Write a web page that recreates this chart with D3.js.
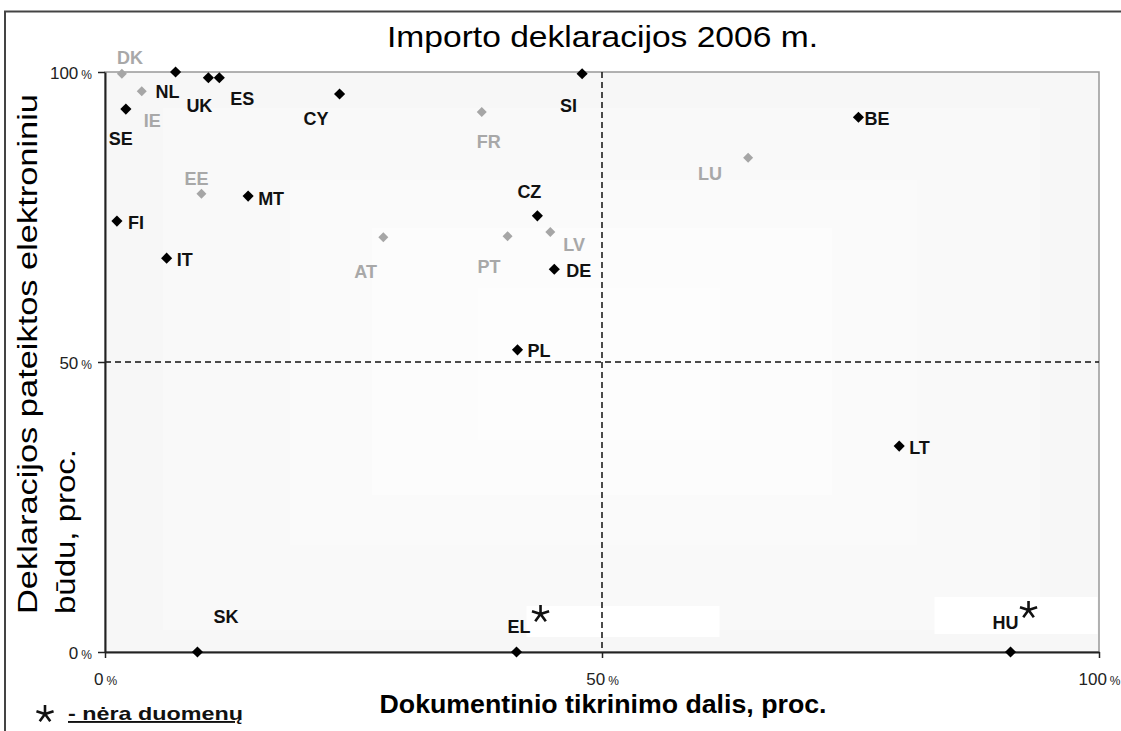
<!DOCTYPE html>
<html>
<head>
<meta charset="utf-8">
<script src="https://cdn.jsdelivr.net/npm/d3@7"></script>
<style>
body { margin: 0; background: #fff; }
svg { display: block; font-family: "Liberation Sans", Arial, sans-serif; }
</style>
</head>
<body>
<svg width="1121" height="731"></svg>
<script>
// country codes, x = dokumentinio tikrinimo dalis (%), y = deklaracijos elektroniniu budu (%)
var codes = ["DK","IE","NL","UK","ES","SE","CY","EE","MT","FI","IT","AT","SI","FR","LU","CZ","LV","PT","DE","PL","BE","LT","SK","EL","HU"];
var xVals = [1.7, 3.7, 7.1, 10.4, 11.5, 2.1, 23.6, 9.7, 14.4, 1.2, 6.2, 28.0, 48.0, 37.9, 64.7, 43.5, 44.8, 40.5, 45.2, 41.5, 75.8, 79.9, 9.3, 41.4, 91.1];
var yVals = [99.7, 96.7, 100, 99.0, 99.0, 93.6, 96.2, 79.0, 78.6, 74.3, 67.9, 71.5, 99.7, 93.1, 85.2, 75.2, 72.4, 71.7, 66.0, 52.1, 92.2, 35.5, 0, 0, 0];
var grayCodes = ["DK","IE","EE","AT","FR","LU","LV","PT"];
var noData = ["EL","HU"];
var tickVals = [0, 50, 100];

// label placement (dx, dy of text start/baseline from the point)
var labelOff = {
  DK:[-5,-10], IE:[2,36], NL:[-20,26], UK:[-22,34], ES:[11,27], SE:[-17,36],
  CY:[-36,31], EE:[-17,-9], MT:[10,9], FI:[11,8], IT:[10,8], AT:[-29,41],
  SI:[-22,38], FR:[-5,36], LU:[-50,22], CZ:[-20,-18], LV:[13,19], PT:[-30,37],
  DE:[12,8], PL:[10,7], BE:[6,8], LT:[10,8], SK:[16,-29], EL:[-9,-19], HU:[-18,-23]
};
// white boxes behind the "no data" labels
var labelBox = { EL:[10,-46,193,31], HU:[-76,-55,163,37] };

var data = codes.map(function(c, i) {
  return { code: c, x: xVals[i], y: yVals[i], gray: grayCodes.indexOf(c) >= 0, na: noData.indexOf(c) >= 0 };
});

var svg = d3.select("svg");
var x = d3.scaleLinear().domain([0, 100]).range([105, 1099]);
var y = d3.scaleLinear().domain([0, 100]).range([652, 72]);

// outer frame
svg.append("path")
  .attr("d", "M5,731V11.5H1121")
  .attr("fill", "none")
  .attr("stroke", "#444")
  .attr("stroke-width", 2);

// plot background (light gradient-like steps)
var bg = [
  [105, 72, 1099, 652, "#f7f7f7"],
  [163, 108, 1040, 630, "#f9f9f9"],
  [290, 180, 917, 545, "#fafafa"],
  [372, 228, 832, 495, "#fcfcfc"],
  [478, 288, 720, 440, "#fdfdfd"]
];
svg.append("g").selectAll("rect").data(bg).enter().append("rect")
  .attr("x", function(d) { return d[0]; })
  .attr("y", function(d) { return d[1]; })
  .attr("width", function(d) { return d[2] - d[0]; })
  .attr("height", function(d) { return d[3] - d[1]; })
  .attr("fill", function(d) { return d[4]; });

// gray plot border (top/right)
svg.append("rect")
  .attr("x", x(0)).attr("y", y(100))
  .attr("width", x(100) - x(0)).attr("height", y(0) - y(100))
  .attr("fill", "none").attr("stroke", "#999").attr("stroke-width", 1.5);

// white boxes behind EL / HU
svg.append("g").selectAll("rect")
  .data(data.filter(function(d) { return labelBox[d.code]; }))
  .enter().append("rect")
  .attr("x", function(d) { return x(d.x) + labelBox[d.code][0]; })
  .attr("y", function(d) { return y(d.y) + labelBox[d.code][1]; })
  .attr("width", function(d) { return labelBox[d.code][2]; })
  .attr("height", function(d) { return labelBox[d.code][3]; })
  .attr("fill", "#fff");

// 50% dashed lines
svg.append("line")
  .attr("x1", x(50)).attr("x2", x(50)).attr("y1", y(100)).attr("y2", y(0))
  .attr("stroke", "#111").attr("stroke-width", 1.5).attr("stroke-dasharray", "6,4");
svg.append("line")
  .attr("x1", x(0)).attr("x2", x(100)).attr("y1", y(50)).attr("y2", y(50))
  .attr("stroke", "#111").attr("stroke-width", 1.5).attr("stroke-dasharray", "6,4");

function pctLabels(sel) {
  sel.selectAll(".tick text").each(function(d) {
    var t = d3.select(this).text(null);
    t.append("tspan").style("font-size", "17px").text(d);
    t.append("tspan").style("font-size", "12px").attr("dx", 3).text("%");
  });
}

// y axis
var gy = svg.append("g")
  .attr("transform", "translate(" + x(0) + ",0)")
  .call(d3.axisLeft(y).tickValues(tickVals).tickSize(7).tickSizeOuter(0).tickPadding(6));
gy.select(".domain").attr("stroke", "#222").attr("stroke-width", 2);
gy.selectAll(".tick line").attr("stroke", "#222").attr("stroke-width", 1.5);
gy.selectAll(".tick text").attr("fill", "#222").attr("dy", 6);
gy.call(pctLabels);

// x axis
var gx = svg.append("g")
  .attr("transform", "translate(0," + y(0) + ")")
  .call(d3.axisBottom(x).tickValues(tickVals).tickSize(6).tickSizeOuter(0));
gx.select(".domain").attr("stroke", "#222").attr("stroke-width", 2);
gx.selectAll(".tick line").attr("stroke", "#222").attr("stroke-width", 1.5);
gx.selectAll(".tick text").attr("fill", "#222").attr("y", 33).attr("dy", 0);
gx.call(pctLabels);

// points
svg.append("g").selectAll("path")
  .data(data).enter().append("path")
  .attr("d", function(d) { return d3.symbol().type(d3.symbolSquare).size(d.gray ? 50 : 62)(); })
  .attr("transform", function(d) { return "translate(" + x(d.x) + "," + y(d.y) + ") rotate(45)"; })
  .attr("fill", function(d) { return d.gray ? "#a6a6a6" : "#000"; });

// point labels
var labels = svg.append("g").selectAll("text")
  .data(data).enter().append("text")
  .attr("x", function(d) { return x(d.x) + labelOff[d.code][0]; })
  .attr("y", function(d) { return y(d.y) + labelOff[d.code][1]; })
  .attr("font-size", "18px")
  .attr("font-weight", "bold")
  .attr("fill", function(d) { return d.gray ? "#a8a8a8" : "#111"; })
  .text(function(d) { return d.code; });

function star(r) {
  var p = d3.path();
  for (var k = 0; k < 5; k++) {
    var a = -Math.PI / 2 + k * 2 * Math.PI / 5;
    p.moveTo(0, 0);
    p.lineTo(r * Math.cos(a), r * Math.sin(a));
  }
  return p.toString();
}

// asterisks for countries without data
labels.filter(function(d) { return d.na; }).each(function(d) {
  var w = this.getComputedTextLength();
  svg.append("path")
    .attr("d", star(9))
    .attr("transform", "translate(" + (x(d.x) + labelOff[d.code][0] + w + 10) + "," + (y(d.y) + labelOff[d.code][1] - 19) + ")")
    .attr("fill", "none").attr("stroke", "#111").attr("stroke-width", 2.6);
});

// title
svg.append("text")
  .attr("x", 602.5).attr("y", 47)
  .attr("text-anchor", "middle")
  .attr("font-size", "30px")
  .attr("textLength", 431).attr("lengthAdjust", "spacingAndGlyphs")
  .attr("fill", "#000")
  .text("Importo deklaracijos 2006 m.");

// y axis title (two lines)
svg.append("text")
  .attr("transform", "translate(37,614) rotate(-90)")
  .attr("font-size", "27px")
  .attr("textLength", 520).attr("lengthAdjust", "spacingAndGlyphs")
  .attr("fill", "#000")
  .text("Deklaracijos pateiktos elektroniniu");
svg.append("text")
  .attr("transform", "translate(75,614) rotate(-90)")
  .attr("font-size", "27px")
  .attr("textLength", 165).attr("lengthAdjust", "spacingAndGlyphs")
  .attr("fill", "#000")
  .text("būdu, proc.");

// x axis title
svg.append("text")
  .attr("x", 603).attr("y", 713)
  .attr("text-anchor", "middle")
  .attr("font-size", "26px")
  .attr("font-weight", "bold")
  .attr("textLength", 447).attr("lengthAdjust", "spacingAndGlyphs")
  .attr("fill", "#000")
  .text("Dokumentinio tikrinimo dalis, proc.");

// legend for missing data
svg.append("path")
  .attr("d", star(9))
  .attr("transform", "translate(45,714)")
  .attr("fill", "none").attr("stroke", "#111").attr("stroke-width", 2.6);
svg.append("text")
  .attr("x", 68).attr("y", 720)
  .attr("font-size", "19px")
  .attr("font-weight", "bold")
  .attr("text-decoration", "underline")
  .attr("textLength", 175).attr("lengthAdjust", "spacingAndGlyphs")
  .attr("fill", "#111")
  .text("- nėra duomenų");
</script>
</body>
</html>
